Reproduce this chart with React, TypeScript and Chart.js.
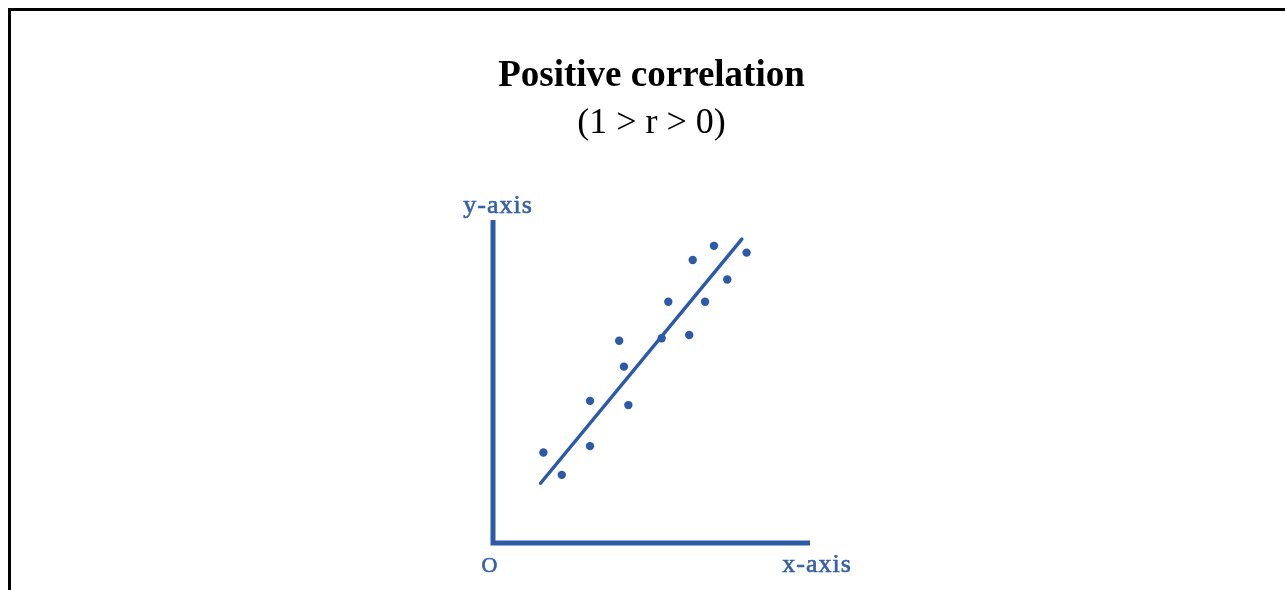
import { useEffect, useRef } from "react";
import { Chart, registerables } from "chart.js";

Chart.register(...registerables);

// Text
const TITLE = "Positive correlation";
const SUBTITLE = "(1 > r > 0)";
const X_AXIS_LABEL = "x-axis";
const Y_AXIS_LABEL = "y-axis";
const ORIGIN_LABEL = "O";

// Observations (x, y) on a 0–100 scale
const obsX = [15.9, 21.7, 30.6, 30.6, 39.8, 41.3, 42.7, 53.2, 55.3, 61.9, 63.0, 66.9, 69.7, 73.9, 80.0];
const obsY = [28.0, 21.1, 30.0, 44.0, 62.6, 54.6, 42.7, 63.4, 74.7, 64.4, 87.6, 74.7, 92.0, 81.6, 89.9];

// Trend line end points
const fitX = [15.0, 78.5];
const fitY = [18.5, 94.1];

const AXIS_MIN = 0;
const AXIS_MAX = 100;

const INK = "#2c5aa8";
const LABEL_INK = "#3660a8";
const SERIF = "'Liberation Serif', 'Times New Roman', serif";

const axesPlugin = {
  id: "sketchAxes",
  beforeDatasetsDraw(chart: any) {
    const { ctx, scales } = chart;
    const x0 = scales.x.getPixelForValue(AXIS_MIN);
    const x1 = scales.x.getPixelForValue(AXIS_MAX);
    const y0 = scales.y.getPixelForValue(AXIS_MIN);
    const y1 = scales.y.getPixelForValue(AXIS_MAX);
    ctx.save();
    ctx.strokeStyle = INK;
    ctx.lineWidth = 5;
    ctx.lineJoin = "miter";
    ctx.lineCap = "butt";
    ctx.beginPath();
    ctx.moveTo(x0, y1);
    ctx.lineTo(x0, y0);
    ctx.lineTo(x1, y0);
    ctx.stroke();
    ctx.restore();
  },
  afterDraw(chart: any) {
    const { ctx, scales } = chart;
    const x0 = scales.x.getPixelForValue(AXIS_MIN);
    const x1 = scales.x.getPixelForValue(AXIS_MAX);
    const y0 = scales.y.getPixelForValue(AXIS_MIN);
    const y1 = scales.y.getPixelForValue(AXIS_MAX);
    ctx.save();
    ctx.fillStyle = LABEL_INK;
    ctx.strokeStyle = LABEL_INK;
    ctx.lineWidth = 0.6;
    ctx.textAlign = "center";
    ctx.textBaseline = "alphabetic";
    ctx.font = `26px ${SERIF}`;
    (ctx as any).letterSpacing = "1px";
    ctx.fillText(Y_AXIS_LABEL, x0 + 5, y1 - 7);
    ctx.strokeText(Y_AXIS_LABEL, x0 + 5, y1 - 7);
    ctx.fillText(X_AXIS_LABEL, x1 + 7, y0 + 29);
    ctx.strokeText(X_AXIS_LABEL, x1 + 7, y0 + 29);
    (ctx as any).letterSpacing = "0px";
    ctx.font = `22px ${SERIF}`;
    ctx.fillText(ORIGIN_LABEL, x0 - 3.5, y0 + 28.5);
    ctx.strokeText(ORIGIN_LABEL, x0 - 3.5, y0 + 28.5);
    ctx.restore();
  },
};

export default function App() {
  const canvasRef = useRef<HTMLCanvasElement | null>(null);

  useEffect(() => {
    const canvas = canvasRef.current;
    if (!canvas) return;
    const points = obsX.map((x, i) => ({ x, y: obsY[i] }));
    const trend = fitX.map((x, i) => ({ x, y: fitY[i] }));

    const chart = new Chart(canvas, {
      type: "scatter",
      data: {
        datasets: [
          {
            type: "line",
            data: trend,
            borderColor: INK,
            borderWidth: 3.5,
            borderCapStyle: "round",
            pointRadius: 0,
            showLine: true,
            fill: false,
          } as any,
          {
            type: "scatter",
            data: points,
            pointRadius: 4.2,
            pointBackgroundColor: INK,
            pointBorderWidth: 0,
            pointHoverRadius: 4.2,
          },
        ],
      },
      options: {
        responsive: false,
        animation: false,
        events: [],
        layout: { padding: { left: 482, right: 475, top: 0, bottom: 47 } },
        scales: {
          x: { type: "linear", min: AXIS_MIN, max: AXIS_MAX, display: false },
          y: { type: "linear", min: AXIS_MIN, max: AXIS_MAX, display: false },
        },
        plugins: {
          legend: { display: false },
          tooltip: { enabled: false },
          title: {
            display: true,
            text: TITLE,
            color: "#000",
            font: { family: SERIF, size: 37, weight: "bold", lineHeight: 1.2 },
            padding: { top: 43.3, bottom: 0 },
          },
          subtitle: {
            display: true,
            text: SUBTITLE,
            color: "#000",
            font: { family: SERIF, size: 36, weight: "normal", lineHeight: 1.2 },
            padding: { top: 3.5, bottom: 74.6 },
          },
        },
      },
      plugins: [axesPlugin],
    });

    return () => chart.destroy();
  }, []);

  return (
    <div
      style={{
        position: "absolute",
        left: 8,
        top: 8,
        width: 1277,
        height: 582,
        boxSizing: "border-box",
        borderLeft: "3px solid #000",
        borderTop: "3px solid #000",
        overflow: "hidden",
        background: "#fff",
      }}
    >
      <canvas ref={canvasRef} width={1274} height={579} style={{ display: "block" }} />
    </div>
  );
}
